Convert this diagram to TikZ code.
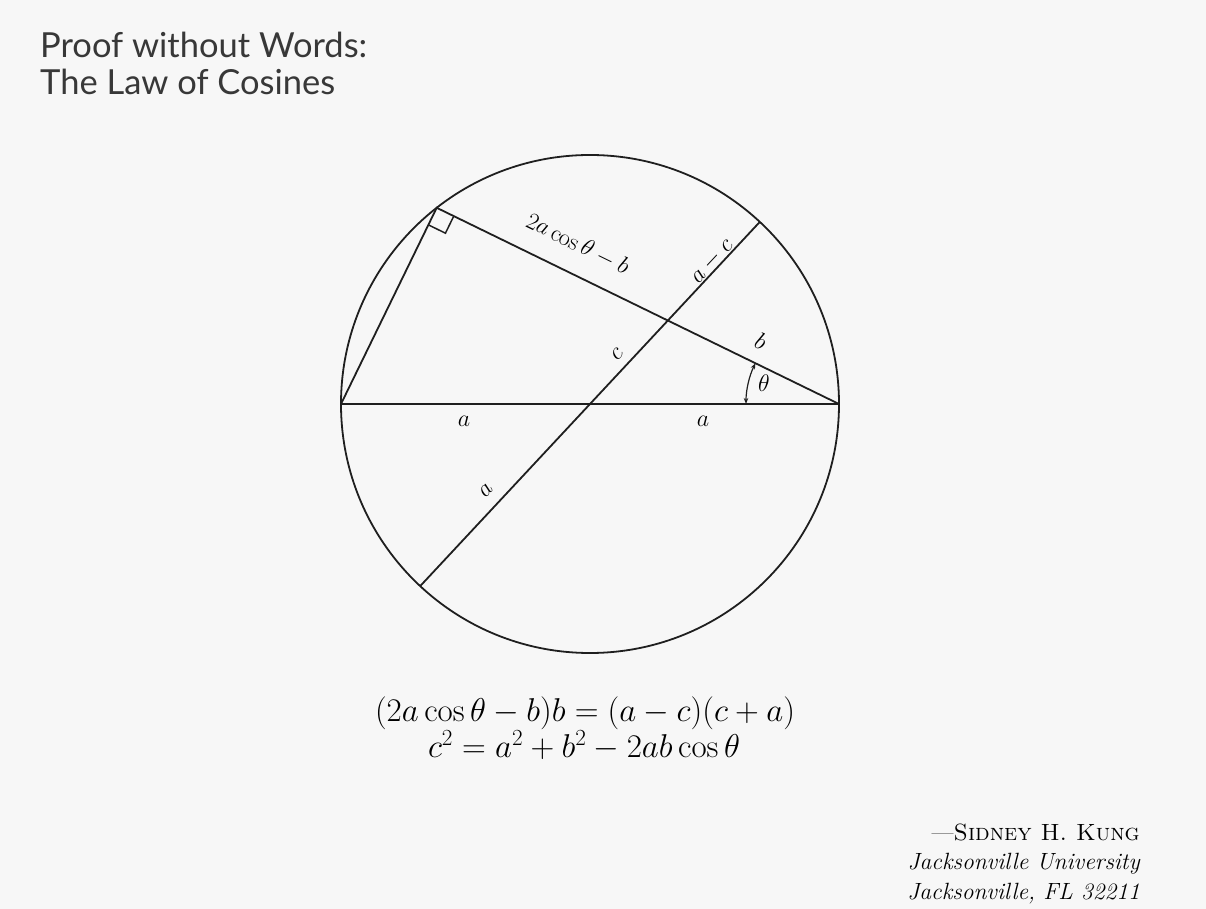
\RequirePackage{fix-cm}
\documentclass[tikz,border=0pt]{standalone}
\usepackage{fontspec}
\newfontfamily\titlefont{Lato}
\usetikzlibrary{calc,arrows.meta}
\begin{document}
\begin{tikzpicture}[x=1pt,y=1pt,
  geo/.style={line width=1.8pt, black!88},
  lbl/.style={font=\fontsize{24}{28}\selectfont, inner sep=1pt},
  eqn/.style={font=\fontsize{33}{38}\selectfont, anchor=base, inner sep=0pt},
  attr/.style={font=\fontsize{23.5}{28}\selectfont, anchor=base east, inner sep=0pt},
  ttl/.style={font=\titlefont\fontsize{34.5}{40}\selectfont, anchor=base west, inner sep=0pt, text=black!78}]
% background / bounding box
\fill[fill={rgb,255:red,247;green,247;blue,247}] (-590,-505) rectangle (616,404);
\useasboundingbox (-590,-505) rectangle (616,404);
% key points
\coordinate (O) at (0,0);
\coordinate (L) at (180:249);
\coordinate (R) at (0:249);
\coordinate (P) at (128:249);
\coordinate (D1) at (47:249);
\coordinate (D2) at (227:249);
\coordinate (X) at (intersection of R--P and D1--D2);
\coordinate (Q1) at ($(P)!19pt!(R)$);
\coordinate (Q2) at ($(P)!19pt!(L)$);
\coordinate (Q3) at ($(Q1)+(Q2)-(P)$);
% circle and lines
\draw[geo] (O) circle[radius=249];
\draw[geo] (L) -- (R);
\draw[geo] (R) -- (P) -- (L);
\draw[geo] (D2) -- (D1);
% right angle mark
\draw[line width=1.5pt, black!88] (Q1) -- (Q3) -- (Q2);
% angle theta
\draw[line width=1.2pt, black!88, {Stealth[length=6pt,width=4.5pt]}-{Stealth[length=6pt,width=4.5pt]}]
  ($(R)+(180:93)$) arc[start angle=180, end angle=154, radius=93];
% labels
\node[lbl] (la1) at (-126,-17) {$a$};
\node[lbl] (la2) at (113,-17) {$a$};
\node[lbl, rotate=47] (la3) at (-104,-86) {$a$};
\node[lbl, rotate=47] (lc) at (27,50) {$c$};
\node[lbl, rotate=47] (lac) at (122,143) {$a-c$};
\node[lbl, rotate=-26] (lchord) at (-12,160) {$2a\cos\theta-b$};
\node[lbl, rotate=-26] (lb) at (171,63) {$b$};
\node[lbl] (lth) at (174,21) {$\theta$};
% equations
\node[eqn] (eq1) at (-5,-317) {$(2a\cos\theta-b)b=(a-c)(c+a)$};
\node[eqn] (eq2) at (-6,-353) {$c^2=a^2+b^2-2ab\cos\theta$};
% attribution
\node[attr] (au) at (550,-436) {---\textsc{Sidney H. Kung}};
\node[attr] (un) at (550,-465) {\itshape Jacksonville University};
\node[attr] (ci) at (550,-495) {\itshape Jacksonville, FL 32211};
% title
\node[ttl] (t1) at (-550,346) {Proof without Words:};
\node[ttl] (t2) at (-550,309) {The Law of Cosines};
\end{tikzpicture}
\end{document}
